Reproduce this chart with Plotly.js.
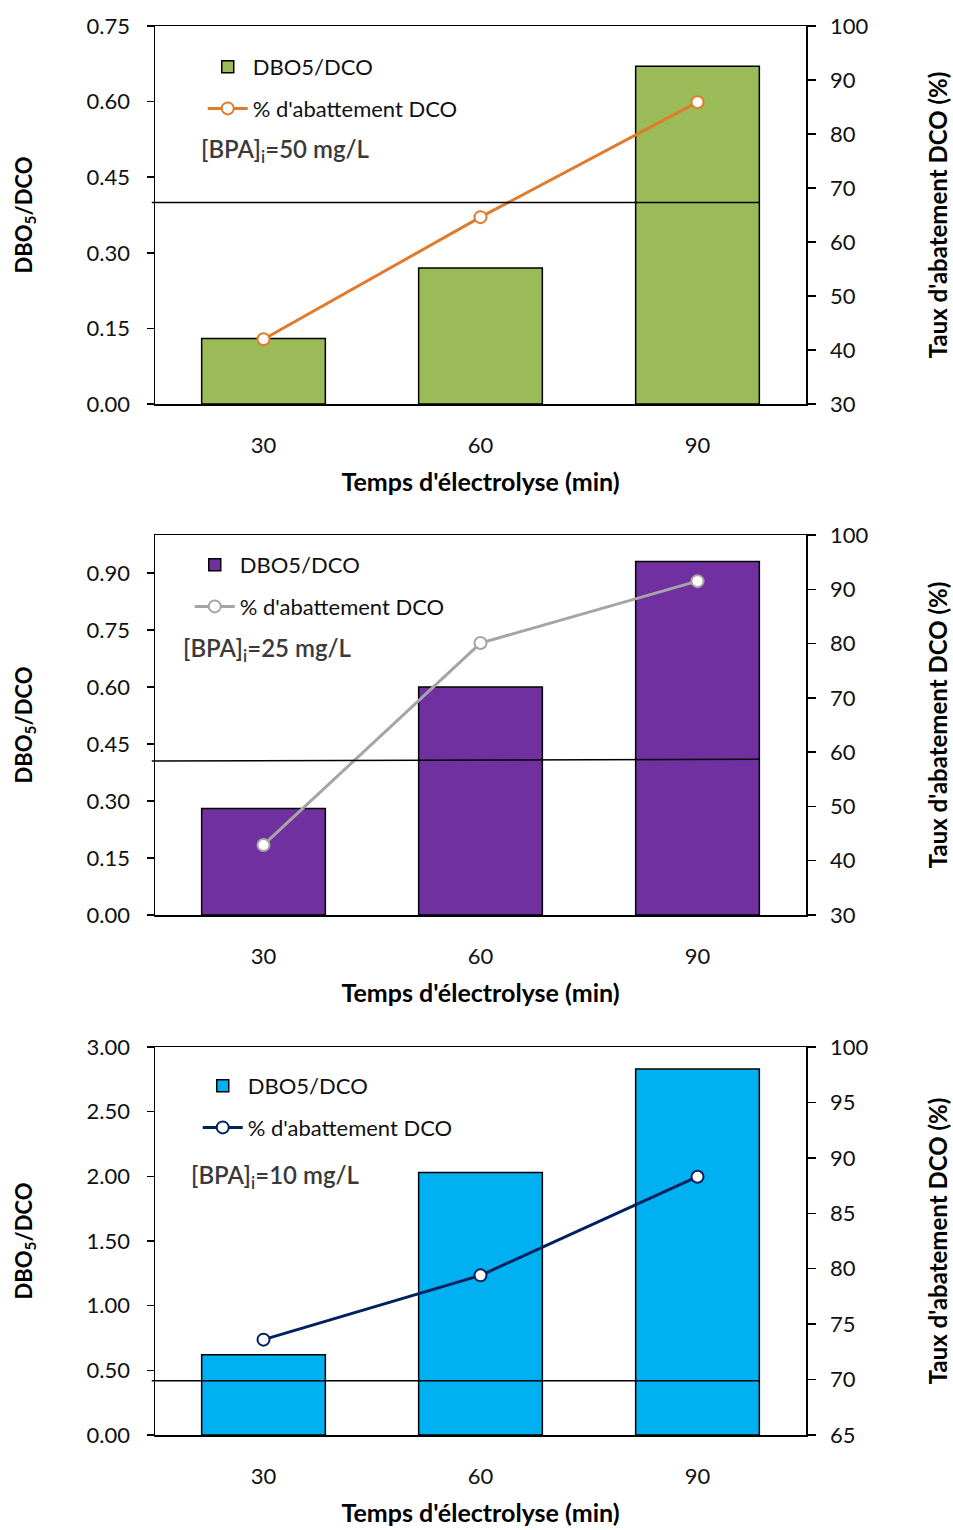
<!DOCTYPE html>
<html>
<head>
<meta charset="utf-8">
<script src="https://cdn.plot.ly/plotly-3.0.1.min.js"></script>
<style>
  html, body { margin: 0; padding: 0; background: #ffffff; }
  #chart { width: 953px; height: 1530px; }
</style>
</head>
<body>
<div id="chart"></div>
<script>
// ---- Data ----
const categories = ["30", "60", "90"];            // Temps d'électrolyse (min)
const ratio50 = [0.13, 0.27, 0.67];               // DBO5/DCO, [BPA]i = 50 mg/L
const abat50  = [42.0, 64.6, 85.9];               // % abattement DCO
const ratio25 = [0.28, 0.60, 0.93];
const abat25  = [42.9, 80.1, 91.5];
const ratio10 = [0.62, 2.03, 2.83];
const abat10  = [73.6, 79.4, 88.3];
const threshold50 = [0.40, 0.40];                 // reference line (start, end)
const threshold25 = [0.405, 0.41];
const threshold10 = [0.42, 0.42];
const concLabels = ["[BPA]<sub>i</sub>=50 mg/L", "[BPA]<sub>i</sub>=25 mg/L", "[BPA]<sub>i</sub>=10 mg/L"];
const barName = "DBO5/DCO";
const lineName = "% d'abattement DCO";
const xTitle = "Temps d'électrolyse (min)";
const yLeftTitle = "DBO<sub>5</sub>/DCO";
const yRightTitle = "Taux d'abatement DCO (%)";

// ---- Layout helpers ----
const W = 953, H = 1530;
const mL = 155, mR = 147, mT = 26, mB = 95;
const plotH = H - mT - mB;           // 1409
const plotW = W - mL - mR;           // 651
const py = p => (H - mB - p) / plotH;   // pixel y -> paper y
const px = p => (p - mL) / plotW;       // pixel x -> paper x

const FONT = "Lato, 'Open Sans', sans-serif";
const idx = categories.map((c, i) => i);

const panels = [
  { ratio: ratio50, abat: abat50, thr: threshold50, barColor: "#9BBB59", lineColor: "#E07B2C",
    top: 26, bottom: 404, yl: [0, 0.75], ylt: [0, 0.15, 0.30, 0.45, 0.60, 0.75],
    yr: [30, 100], yrt: [30, 40, 50, 60, 70, 80, 90, 100], legX: 206, legY: 46, annX: 199, annY: 150, label: concLabels[0] },
  { ratio: ratio25, abat: abat25, thr: threshold25, barColor: "#7030A0", lineColor: "#A5A5A5",
    top: 535, bottom: 915, yl: [0, 1.0], ylt: [0, 0.15, 0.30, 0.45, 0.60, 0.75, 0.90],
    yr: [30, 100], yrt: [30, 40, 50, 60, 70, 80, 90, 100], legX: 193, legY: 544, annX: 181, annY: 649, label: concLabels[1] },
  { ratio: ratio10, abat: abat10, thr: threshold10, barColor: "#00B0F0", lineColor: "#002060",
    top: 1047, bottom: 1435, yl: [0, 3.0], ylt: [0, 0.5, 1.0, 1.5, 2.0, 2.5, 3.0],
    yr: [65, 100], yrt: [65, 70, 75, 80, 85, 90, 95, 100], legX: 201, legY: 1065, annX: 189, annY: 1176, label: concLabels[2] }
];

const traces = [];
const layout = {
  width: W, height: H,
  margin: { l: mL, r: mR, t: mT, b: mB },
  paper_bgcolor: "#ffffff", plot_bgcolor: "#ffffff",
  font: { family: FONT, size: 20, color: "#111111" },
  showlegend: true,
  bargap: 0.43,
  shapes: [], annotations: []
};

panels.forEach((p, k) => {
  const n = k + 1;
  const xa = n === 1 ? "x" : "x" + n;
  const yaL = "y" + (2 * n - 1 === 1 ? "" : (2 * n - 1));
  const yaR = "y" + (2 * n);
  const xKey = n === 1 ? "xaxis" : "xaxis" + n;
  const yLKey = 2 * n - 1 === 1 ? "yaxis" : "yaxis" + (2 * n - 1);
  const yRKey = "yaxis" + (2 * n);
  const legKey = n === 1 ? "legend" : "legend" + n;

  traces.push({
    type: "bar", x: idx, y: p.ratio, name: barName,
    xaxis: xa, yaxis: yaL, legend: legKey, legendgroup: "b" + n,
    marker: { color: p.barColor, line: { color: "#000000", width: 1.5 } },
    width: 0.57, hoverinfo: "y"
  });
  traces.push({
    type: "scatter", mode: "lines+markers", x: idx, y: p.abat, name: lineName,
    xaxis: xa, yaxis: yaR, legend: legKey, legendgroup: "l" + n,
    line: { color: p.lineColor, width: 3 },
    marker: { symbol: "circle", size: 12, color: "#ffffff", line: { color: p.lineColor, width: 2 } }
  });

  const dom = [py(p.bottom), py(p.top)];
  layout[xKey] = {
    domain: [0, 1], anchor: yaL, range: [-0.5, 2.5],
    tickmode: "array", tickvals: idx, ticktext: categories,
    showline: true, linecolor: "#000000", linewidth: 1.5, mirror: true,
    ticks: "", showgrid: false, zeroline: false, fixedrange: true,
    ticklabelstandoff: 21,
    tickfont: { family: FONT, size: 22, color: "#111111" },
    title: { text: xTitle, standoff: 16, font: { family: FONT, size: 25, weight: "bold", color: "#000000" } }
  };
  layout[yLKey] = {
    domain: dom, anchor: xa, range: p.yl,
    tickmode: "array", tickvals: p.ylt, tickformat: ".2f",
    showline: true, linecolor: "#000000", linewidth: 1.5,
    ticks: "outside", ticklen: 7, tickwidth: 1.5, tickcolor: "#000000",
    showgrid: false, zeroline: false, fixedrange: true,
    ticklabelstandoff: 12,
    tickfont: { family: FONT, size: 22, color: "#111111" },
    title: { text: yLeftTitle, standoff: 48, font: { family: FONT, size: 22, weight: "bold", color: "#000000" } }
  };
  layout[yRKey] = {
    domain: dom, anchor: xa, overlaying: yaL, side: "right", range: p.yr,
    tickmode: "array", tickvals: p.yrt,
    showline: true, linecolor: "#000000", linewidth: 1.5,
    ticks: "outside", ticklen: 8, tickwidth: 1.5, tickcolor: "#000000",
    showgrid: false, zeroline: false, fixedrange: true,
    ticklabelstandoff: 10,
    tickfont: { family: FONT, size: 22, color: "#111111" },
    title: { text: yRightTitle, standoff: 63, font: { family: FONT, size: 24, weight: "bold", color: "#000000" } }
  };
  layout[legKey] = {
    x: px(p.legX) - 0.005, y: py(p.legY), xanchor: "left", yanchor: "top",
    xref: "paper", yref: "paper",
    bgcolor: "rgba(0,0,0,0)", borderwidth: 0,
    font: { family: FONT, size: 22, color: "#111111" },
    traceorder: "grouped", tracegroupgap: 10, itemwidth: 40
  };
  layout.shapes.push({
    type: "line", xref: xa + " domain", yref: yaL,
    x0: -0.005, x1: 0.929, y0: p.thr[0], y1: p.thr[1],
    line: { color: "#000000", width: 1.5 }, layer: "above"
  });
  layout.annotations.push({
    xref: "paper", yref: "paper", x: px(p.annX), y: py(p.annY),
    xanchor: "left", yanchor: "middle", showarrow: false,
    text: p.label, font: { family: FONT, size: 24, color: "#3a3a3a", weight: 600 }
  });
});

Plotly.newPlot("chart", traces, layout, { displayModeBar: false, staticPlot: true });
</script>
</body>
</html>
